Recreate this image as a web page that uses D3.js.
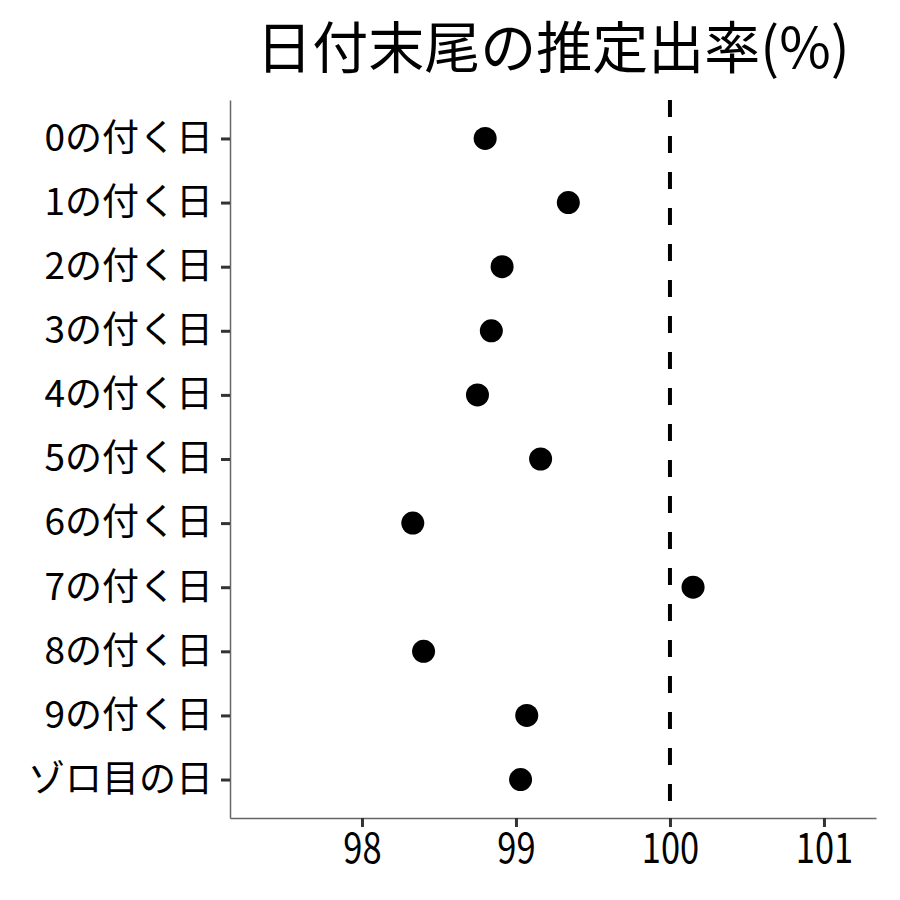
<!DOCTYPE html>
<html>
<head>
<meta charset="utf-8">
<script src="https://cdn.jsdelivr.net/npm/d3@7"></script>
<style>
  body { margin: 0; background: #fff; }
  text { font-family: "Noto Sans CJK JP", "Noto Sans", sans-serif; }
</style>
</head>
<body>
<div id="chart"></div>
<script>
const categories = ["0の付く日", "1の付く日", "2の付く日", "3の付く日", "4の付く日",
  "5の付く日", "6の付く日", "7の付く日", "8の付く日", "9の付く日", "ゾロ目の日"];
const rates = [98.80, 99.34, 98.91, 98.84, 98.75, 99.16, 98.33, 100.15, 98.40, 99.07, 99.03];
const xTicks = [98, 99, 100, 101];
const refValue = 100;
const title = "日付末尾の推定出率(%)";

const width = 900, height = 900;
const margin = { top: 100, right: 24, bottom: 82, left: 230 };

const svg = d3.select("#chart").append("svg")
  .attr("width", width)
  .attr("height", height);

const x = d3.scaleLinear()
  .domain([97.143, 101.338])
  .range([margin.left, width - margin.right]);

const y = d3.scalePoint()
  .domain(categories)
  .range([margin.top, height - margin.bottom])
  .padding(0.6);

// reference line
svg.append("line")
  .attr("x1", x(refValue)).attr("x2", x(refValue))
  .attr("y1", margin.top).attr("y2", height - margin.bottom)
  .attr("stroke", "#000")
  .attr("stroke-width", 4)
  .attr("stroke-dasharray", "17,19");

// x axis
const xAxis = svg.append("g")
  .attr("transform", `translate(0,${height - margin.bottom})`)
  .call(d3.axisBottom(x).tickValues(xTicks).tickFormat(d3.format("d"))
    .tickSize(9).tickSizeOuter(0).tickPadding(6));
xAxis.select(".domain").attr("stroke", "#666").attr("stroke-width", 1.5);
xAxis.selectAll(".tick line").attr("stroke", "#333").attr("stroke-width", 3);
xAxis.selectAll(".tick text")
  .attr("fill", "#000")
  .style("font-size", "42px")
  .attr("transform", "scale(0.82,1)")
  .attr("dy", "0.72em");

// y axis
const yAxis = svg.append("g")
  .attr("transform", `translate(${margin.left},0)`)
  .call(d3.axisLeft(y).tickSize(9).tickSizeOuter(0).tickPadding(8));
yAxis.select(".domain").attr("stroke", "#666").attr("stroke-width", 1.5);
yAxis.selectAll(".tick line").attr("stroke", "#333").attr("stroke-width", 3);
yAxis.selectAll(".tick text")
  .attr("fill", "#000")
  .style("font-size", "37px");

// points
svg.selectAll("circle.pt")
  .data(categories)
  .enter()
  .append("circle")
  .attr("class", "pt")
  .attr("cx", (d, i) => x(rates[i]))
  .attr("cy", (d) => y(d))
  .attr("r", 11.5)
  .attr("fill", "#000");

// title
svg.append("text")
  .attr("x", (margin.left + width - margin.right) / 2)
  .attr("y", 68)
  .attr("text-anchor", "middle")
  .style("font-size", "56px")
  .attr("fill", "#000")
  .text(title);
</script>
</body>
</html>
